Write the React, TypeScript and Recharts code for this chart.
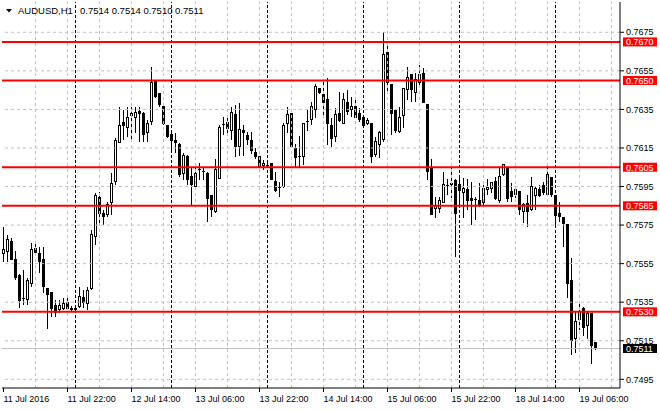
import React from 'react';
import { ComposedChart, Bar, XAxis, YAxis, ReferenceLine } from 'recharts';

// AUDUSD H1, 11 Jul 2016 06:00 -> 19 Jul 2016 10:00
const OPEN = [
  0.75604, 0.75612, 0.75664, 0.75569, 0.75491, 0.75370, 0.75362, 0.75448, 0.75630, 0.75600,
  0.75569, 0.75422, 0.75401, 0.75331, 0.75310, 0.75318, 0.75348, 0.75318, 0.75310, 0.75327,
  0.75374, 0.75341, 0.75420, 0.75690, 0.75892, 0.75811, 0.75807, 0.75866, 0.75975, 0.76179,
  0.76281, 0.76255, 0.76320, 0.76309, 0.76338, 0.76329, 0.76229, 0.76286, 0.76494, 0.76433,
  0.76364, 0.76269, 0.76222, 0.76188, 0.76170, 0.76018, 0.76105, 0.76001, 0.75949, 0.76039,
  0.76030, 0.76020, 0.75901, 0.75820, 0.75992, 0.76270, 0.76281, 0.76243, 0.76321, 0.76156,
  0.76240, 0.76217, 0.76191, 0.76125, 0.76105, 0.76058, 0.76060, 0.76070, 0.75978, 0.75944,
  0.75949, 0.76278, 0.76330, 0.76148, 0.76105, 0.76105, 0.76288, 0.76298, 0.76350, 0.76459,
  0.76428, 0.76399, 0.76269, 0.76212, 0.76330, 0.76278, 0.76387, 0.76352, 0.76364, 0.76330,
  0.76310, 0.76278, 0.76278, 0.76114, 0.76170, 0.76192, 0.76646, 0.76480, 0.76342, 0.76235,
  0.76318, 0.76451, 0.76529, 0.76439, 0.76491, 0.76537, 0.76376, 0.76045, 0.75837, 0.75837,
  0.75868, 0.75953, 0.75967, 0.75979, 0.75962, 0.75920, 0.75932, 0.75889, 0.75884, 0.75880,
  0.75866, 0.75935, 0.75941, 0.75975, 0.75880, 0.76010, 0.76044, 0.75923, 0.75910, 0.75923,
  0.75820, 0.75863, 0.75832, 0.75901, 0.75935, 0.75953, 0.75910, 0.75998, 0.75901, 0.75811,
  0.75790, 0.75751, 0.75460, 0.75163, 0.75261, 0.75318, 0.75228, 0.75292, 0.75140,
];
const HIGH = [
  0.75742, 0.75700, 0.75681, 0.75616, 0.75495, 0.75517, 0.75474, 0.75656, 0.75656, 0.75638,
  0.75638, 0.75426, 0.75405, 0.75362, 0.75362, 0.75370, 0.75370, 0.75331, 0.75331, 0.75431,
  0.75413, 0.75431, 0.75725, 0.75915, 0.75923, 0.75830, 0.75871, 0.76018, 0.76200, 0.76364,
  0.76347, 0.76364, 0.76364, 0.76364, 0.76364, 0.76338, 0.76295, 0.76571, 0.76502, 0.76435,
  0.76366, 0.76271, 0.76230, 0.76230, 0.76174, 0.76122, 0.76113, 0.76044, 0.76053, 0.76070,
  0.76053, 0.76027, 0.75903, 0.76091, 0.76270, 0.76309, 0.76312, 0.76364, 0.76373, 0.76381,
  0.76270, 0.76234, 0.76234, 0.76148, 0.76110, 0.76087, 0.76087, 0.76072, 0.76027, 0.75975,
  0.76277, 0.76364, 0.76332, 0.76169, 0.76212, 0.76280, 0.76347, 0.76390, 0.76480, 0.76461,
  0.76494, 0.76514, 0.76304, 0.76355, 0.76442, 0.76433, 0.76450, 0.76416, 0.76407, 0.76359,
  0.76321, 0.76304, 0.76280, 0.76209, 0.76238, 0.76753, 0.76693, 0.76482, 0.76344, 0.76364,
  0.76462, 0.76572, 0.76531, 0.76537, 0.76581, 0.76563, 0.76378, 0.76091, 0.75898, 0.75898,
  0.76027, 0.75989, 0.76045, 0.75989, 0.76010, 0.75993, 0.75989, 0.75975, 0.75897, 0.75967,
  0.75958, 0.75987, 0.75974, 0.76001, 0.76044, 0.76065, 0.76046, 0.75967, 0.75944, 0.75925,
  0.75863, 0.75906, 0.76001, 0.75953, 0.75958, 0.75975, 0.76062, 0.76000, 0.75906, 0.75872,
  0.75792, 0.75753, 0.75578, 0.75301, 0.75348, 0.75327, 0.75301, 0.75296, 0.75140,
];
const LOW = [
  0.75560, 0.75560, 0.75569, 0.75465, 0.75318, 0.75336, 0.75336, 0.75431, 0.75595, 0.75500,
  0.75396, 0.75209, 0.75275, 0.75275, 0.75292, 0.75310, 0.75310, 0.75300, 0.75305, 0.75318,
  0.75318, 0.75310, 0.75413, 0.75647, 0.75759, 0.75750, 0.75793, 0.75802, 0.75958, 0.76174,
  0.76191, 0.76208, 0.76182, 0.76226, 0.76182, 0.76182, 0.76182, 0.76270, 0.76407, 0.76364,
  0.76270, 0.76200, 0.76122, 0.76122, 0.76001, 0.75984, 0.75958, 0.75850, 0.75940, 0.75984,
  0.75984, 0.75767, 0.75793, 0.75815, 0.75987, 0.76217, 0.76210, 0.76191, 0.76105, 0.76110,
  0.76110, 0.76165, 0.76118, 0.76091, 0.76049, 0.76035, 0.76050, 0.75984, 0.75923, 0.75897,
  0.75940, 0.76226, 0.76150, 0.76044, 0.76053, 0.76060, 0.76238, 0.76269, 0.76304, 0.76430,
  0.76321, 0.76165, 0.76156, 0.76182, 0.76286, 0.76276, 0.76321, 0.76312, 0.76304, 0.76286,
  0.76269, 0.76267, 0.76070, 0.76105, 0.76096, 0.76183, 0.76434, 0.76218, 0.76226, 0.76226,
  0.76255, 0.76399, 0.76390, 0.76390, 0.76460, 0.76382, 0.75984, 0.75800, 0.75789, 0.75811,
  0.75863, 0.75906, 0.75889, 0.75586, 0.75854, 0.75789, 0.75828, 0.75751, 0.75776, 0.75846,
  0.75855, 0.75906, 0.75915, 0.75880, 0.75863, 0.76006, 0.75872, 0.75872, 0.75889, 0.75802,
  0.75759, 0.75739, 0.75823, 0.75828, 0.75897, 0.75906, 0.75906, 0.75897, 0.75742, 0.75768,
  0.75638, 0.75370, 0.75076, 0.75088, 0.75206, 0.75175, 0.75161, 0.75030, 0.75100,
];
const CLOSE = [
  0.75621, 0.75673, 0.75574, 0.75478, 0.75358, 0.75372, 0.75460, 0.75621, 0.75607, 0.75560,
  0.75431, 0.75388, 0.75318, 0.75296, 0.75331, 0.75341, 0.75318, 0.75310, 0.75318, 0.75382,
  0.75348, 0.75413, 0.75702, 0.75901, 0.75811, 0.75795, 0.75859, 0.75966, 0.76191, 0.76269,
  0.76265, 0.76309, 0.76330, 0.76333, 0.76329, 0.76222, 0.76277, 0.76490, 0.76416, 0.76373,
  0.76277, 0.76208, 0.76188, 0.76180, 0.76010, 0.76113, 0.75984, 0.75958, 0.76015, 0.76043,
  0.76031, 0.75889, 0.75831, 0.76039, 0.76257, 0.76272, 0.76252, 0.76333, 0.76156, 0.76246,
  0.76230, 0.76196, 0.76136, 0.76105, 0.76053, 0.76070, 0.76062, 0.75987, 0.75928, 0.75946,
  0.76269, 0.76321, 0.76156, 0.76100, 0.76110, 0.76278, 0.76290, 0.76364, 0.76471, 0.76437,
  0.76387, 0.76278, 0.76200, 0.76321, 0.76290, 0.76399, 0.76338, 0.76364, 0.76307, 0.76295,
  0.76269, 0.76290, 0.76105, 0.76183, 0.76231, 0.76636, 0.76491, 0.76330, 0.76243, 0.76307,
  0.76460, 0.76515, 0.76451, 0.76503, 0.76529, 0.76387, 0.76027, 0.75803, 0.75854, 0.75880,
  0.75962, 0.75955, 0.75958, 0.75811, 0.75929, 0.75941, 0.75875, 0.75877, 0.75886, 0.75855,
  0.75941, 0.75945, 0.75970, 0.75889, 0.76001, 0.76062, 0.75889, 0.75897, 0.75932, 0.75832,
  0.75855, 0.75820, 0.75949, 0.75941, 0.75906, 0.75918, 0.76010, 0.75910, 0.75802, 0.75797,
  0.75756, 0.75448, 0.75151, 0.75249, 0.75301, 0.75218, 0.75292, 0.75128, 0.75110,
];

const TICK_INDEX = [0, 16, 32, 48, 64, 80, 96, 112, 128, 144];
const TICK_LABELS = [
  '11 Jul 2016', '11 Jul 22:00', '12 Jul 14:00', '13 Jul 06:00', '13 Jul 22:00',
  '14 Jul 14:00', '15 Jul 06:00', '15 Jul 22:00', '18 Jul 14:00', '19 Jul 06:00',
];
const PRICE_TICKS = [0.7495, 0.7515, 0.7535, 0.7555, 0.7575, 0.7595, 0.7615, 0.7635, 0.7655, 0.7675];
const GRID_INDEX = [8, 16, 24, 32, 40, 48, 56, 64, 72, 80, 88, 96, 104, 112, 120, 128, 136, 144, 152];
const DAY_BREAKS = [18, 42, 66, 90, 114, 138];
const LEVELS = [0.767, 0.765, 0.7605, 0.7585, 0.753];
const BID = 0.7511;
const SYMBOL = 'AUDUSD,H1';
const LAST_BAR = '0.7514 0.7514 0.7510 0.7511';

const X_DOMAIN = [-0.375, 154.125];
const Y_DOMAIN = [0.74905, 0.76907];
const FONT = '"Liberation Sans", Arial, sans-serif';

const data = OPEN.map((o, i) => ({
  i,
  open: o,
  high: HIGH[i],
  low: LOW[i],
  close: CLOSE[i],
  range: [LOW[i], HIGH[i]],
}));

const Candle = (props: any) => {
  const { x, y, width, height, payload } = props;
  const { open, close, high, low } = payload;
  const top = Math.min(y, y + height);
  const h = Math.abs(height);
  const k = high > low ? h / (high - low) : 0;
  const cx = Math.floor(x + width / 2) + 0.5;
  const yO = top + (high - open) * k;
  const yC = top + (high - close) * k;
  const bTop = Math.min(yO, yC);
  const bH = Math.abs(yO - yC);
  return (
    <g shapeRendering="crispEdges">
      <line x1={cx} x2={cx} y1={top} y2={top + h} stroke="#000" />
      {bH < 1 ? (
        <line x1={cx - 1.5} x2={cx + 1.5} y1={yO} y2={yO} stroke="#000" />
      ) : (
        <rect x={cx - 1} y={bTop} width={2} height={bH} fill={close > open ? '#fff' : '#000'} stroke="#000" />
      )}
    </g>
  );
};

const PriceTag = (props: any) => {
  const { viewBox, text, bg } = props;
  if (!viewBox) return null;
  const lx = viewBox.x + viewBox.width + 3;
  return (
    <g>
      <rect x={lx} y={viewBox.y - 4.5} width={34} height={9} fill={bg} />
      <text x={lx + 3} y={viewBox.y + 3.5} fill="#fff" fontSize={9} fontFamily={FONT}>
        {text}
      </text>
    </g>
  );
};

const DateTick = (props: any) => {
  const { x, y, payload } = props;
  const label = TICK_LABELS[TICK_INDEX.indexOf(payload.value)];
  return (
    <text x={x} y={y} dy={8} fill="#000" fontSize={9} fontFamily={FONT} textAnchor="start">
      {label}
    </text>
  );
};

export default function App() {
  return (
    <div style={{ position: 'absolute', left: 0, top: 0, width: 660, height: 410, background: '#fff' }}>
      <ComposedChart width={660} height={410} data={data} margin={{ top: 2, right: 0, bottom: 0, left: 2 }}>
        <XAxis
          type="number"
          dataKey="i"
          domain={X_DOMAIN}
          ticks={TICK_INDEX}
          interval={0}
          allowDataOverflow
          height={22}
          tickSize={4}
          tickMargin={2}
          tick={<DateTick />}
          axisLine={{ stroke: '#000' }}
          tickLine={{ stroke: '#000' }}
        />
        <YAxis
          yAxisId="p"
          orientation="right"
          type="number"
          domain={Y_DOMAIN}
          ticks={PRICE_TICKS}
          interval={0}
          allowDataOverflow
          width={40}
          tickSize={4}
          tickMargin={2}
          tickFormatter={(v: number) => v.toFixed(4)}
          tick={{ fill: '#000', fontSize: 9, fontFamily: FONT }}
          axisLine={{ stroke: '#000' }}
          tickLine={{ stroke: '#000' }}
        />
        <YAxis
          yAxisId="l"
          orientation="left"
          type="number"
          domain={Y_DOMAIN}
          width={0}
          tick={false}
          tickLine={false}
          axisLine={{ stroke: '#000' }}
        />
        {PRICE_TICKS.map((p) => (
          <ReferenceLine key={'h' + p} yAxisId="p" y={p} stroke="#c0c0c0" strokeDasharray="3 3" />
        ))}
        {GRID_INDEX.map((g) => (
          <ReferenceLine key={'v' + g} yAxisId="p" x={g} stroke="#c0c0c0" strokeDasharray="3 3" />
        ))}
        {DAY_BREAKS.map((d) => (
          <ReferenceLine key={'d' + d} yAxisId="p" x={d} stroke="#000" strokeDasharray="3 2" />
        ))}
        <ReferenceLine
          yAxisId="p"
          y={BID}
          stroke="#c0c0c0"
          label={<PriceTag text={BID.toFixed(4)} bg="#000" />}
        />
        <Bar yAxisId="p" dataKey="range" shape={Candle} barSize={4} isAnimationActive={false} />
        {LEVELS.map((lv) => (
          <ReferenceLine
            key={'l' + lv}
            yAxisId="p"
            y={lv}
            stroke="#ff0000"
            strokeWidth={2}
            label={<PriceTag text={lv.toFixed(4)} bg="#ff0000" />}
          />
        ))}
      </ComposedChart>
      <svg width={660} height={20} style={{ position: 'absolute', left: 0, top: 0, pointerEvents: 'none' }}>
        <polygon points="6,9 12,9 9,12.5" fill="#000" />
        <text x={18} y={14} fontSize={9.5} fontFamily={FONT} fill="#000">{SYMBOL}</text>
        <text x={80} y={14} fontSize={9.5} fontFamily={FONT} fill="#000">{LAST_BAR}</text>
      </svg>
    </div>
  );
}
